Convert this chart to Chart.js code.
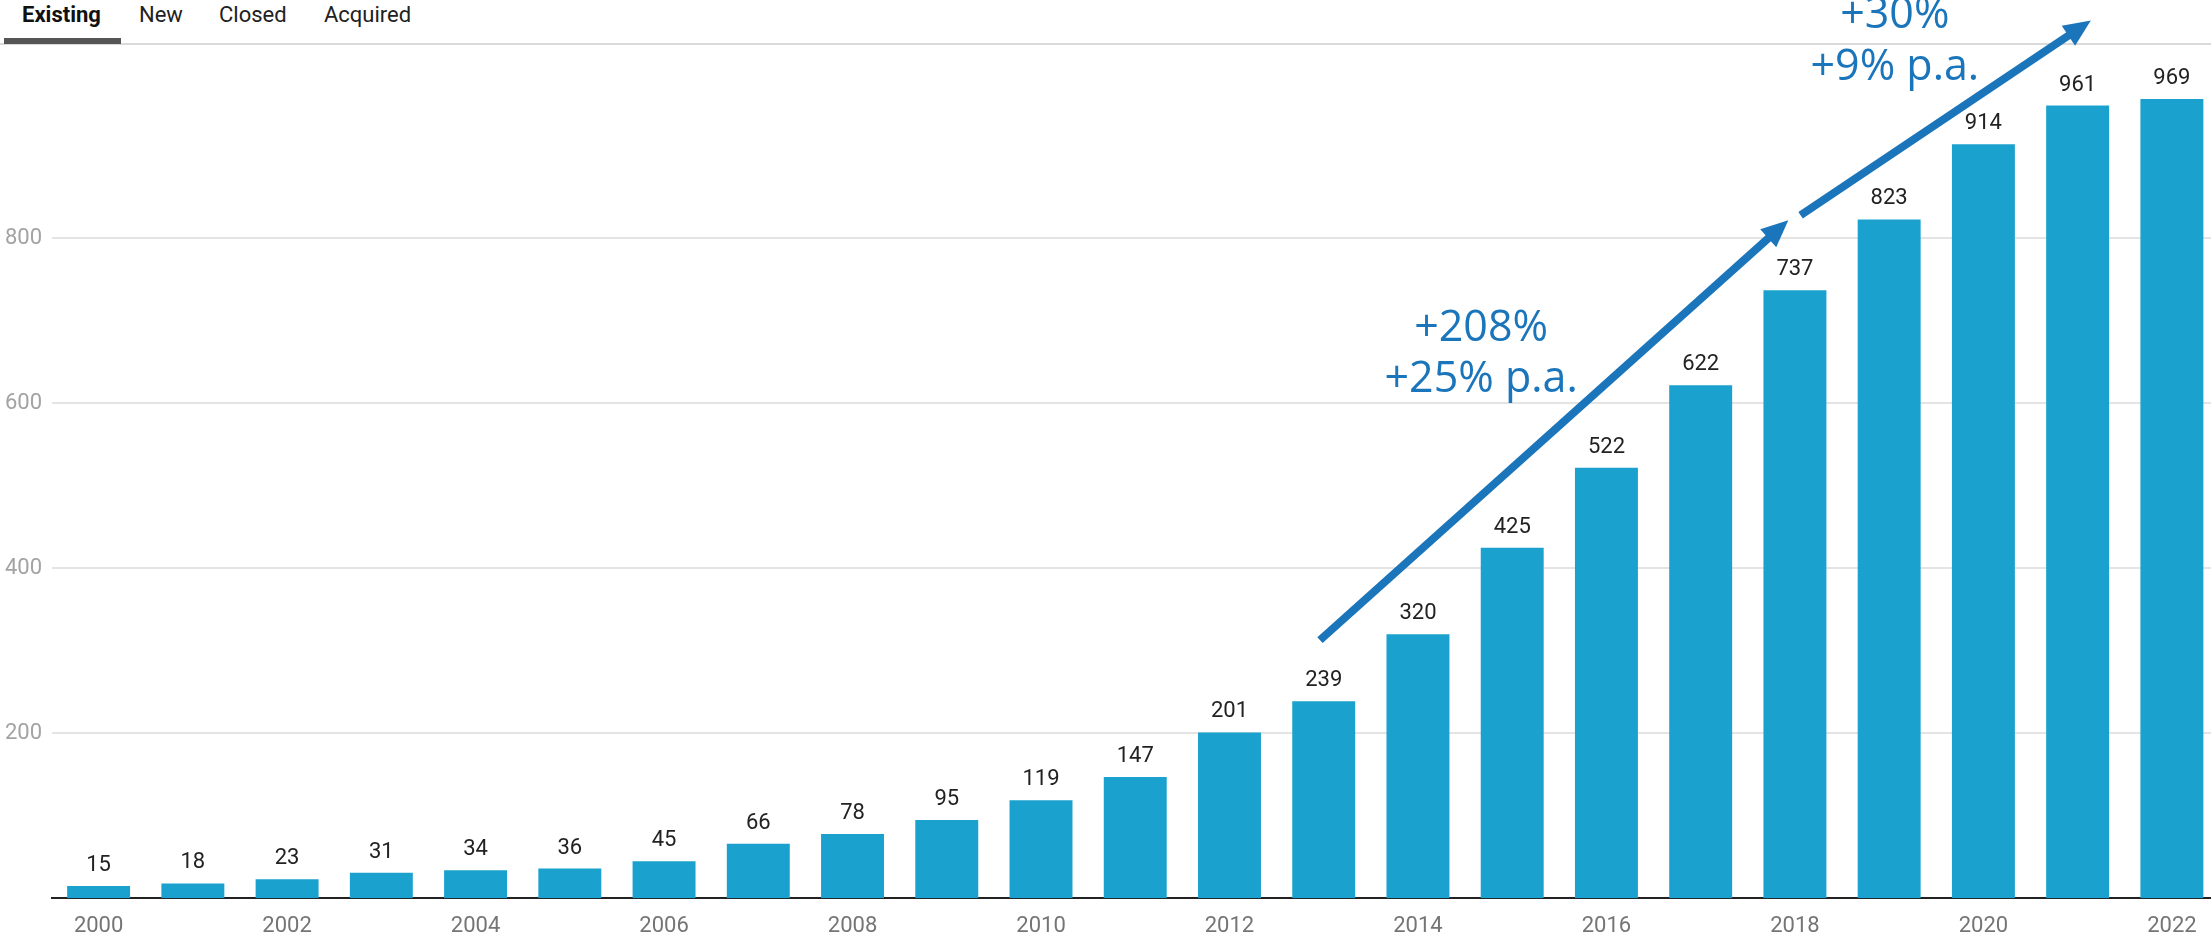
<!DOCTYPE html>
<html>
<head>
<meta charset="utf-8">
<script src="https://cdn.jsdelivr.net/npm/chart.js@4.4.1/dist/chart.umd.min.js"></script>
<style>
html,body{margin:0;padding:0;background:#fff;overflow:hidden;width:2211px;height:933px;}
#wrap{position:relative;width:2211px;height:933px;overflow:hidden;}
.tabs{position:absolute;left:0;top:0;width:2211px;height:46px;font-family:Roboto,"Liberation Sans",sans-serif;font-size:22px;color:#212121;z-index:1;}
.tab{position:absolute;top:2px;line-height:26px;white-space:nowrap;}
.tab.sel{font-weight:700;color:#111;}
.tabline{position:absolute;left:0;top:43px;width:2211px;height:2px;background:#dadada;}
.tabsel{position:absolute;left:4px;top:38px;width:117px;height:6px;background:#555;}
#c{position:absolute;left:0;top:0;z-index:2;}
</style>
</head>
<body>
<div id="wrap">
  <div class="tabs">
    <div class="tab sel" style="left:22px">Existing</div>
    <div class="tab" style="left:139px">New</div>
    <div class="tab" style="left:219px">Closed</div>
    <div class="tab" style="left:324px">Acquired</div>
    <div class="tabline"></div>
    <div class="tabsel"></div>
  </div>
  <canvas id="c" width="2219" height="933" style="width:2219px;height:933px"></canvas>
</div>
<script>
// ---- data ----
const years = ['2000','2001','2002','2003','2004','2005','2006','2007','2008','2009','2010','2011','2012','2013','2014','2015','2016','2017','2018','2019','2020','2021','2022'];
const existing = [15,18,23,31,34,36,45,66,78,95,119,147,201,239,320,425,522,622,737,823,914,961,969];
const yTickValues = [200,400,600,800];
// annotation arrows in data coordinates: [category index, value]
const arrowFrom = [[12.96,313],[18.06,828]];
const arrowTo   = [[17.93,822],[21.14,1064]];
// annotation texts in data coordinates
const noteText = ['+208%','+25% p.a.','+30%','+9% p.a.'];
const noteAt   = [[14.67,676],[14.67,614],[19.06,1055],[19.06,992]];

const overlay = {
  id:'overlay',
  afterDatasetsDraw(chart){
    const ctx = chart.ctx;
    const xs = chart.scales.x, ys = chart.scales.y;
    const meta = chart.getDatasetMeta(0);
    ctx.save();
    // value labels
    ctx.font = '22px Roboto';
    ctx.fillStyle = '#222';
    ctx.textAlign = 'center';
    ctx.textBaseline = 'alphabetic';
    meta.data.forEach((bar,i)=>{
      ctx.fillText(String(existing[i]), bar.x, bar.y - 15);
    });
    // arrows
    const col = '#1b75bb';
    ctx.strokeStyle = col;
    ctx.fillStyle = col;
    ctx.lineWidth = 8;
    ctx.lineCap = 'butt';
    for (let k=0;k<arrowFrom.length;k++){
      const x0 = xs.getPixelForValue(arrowFrom[k][0]);
      const y0 = ys.getPixelForValue(arrowFrom[k][1]);
      const x1 = xs.getPixelForValue(arrowTo[k][0]);
      const y1 = ys.getPixelForValue(arrowTo[k][1]);
      const dx = x1-x0, dy = y1-y0, L = Math.hypot(dx,dy);
      const ux = dx/L, uy = dy/L;
      const head = 27, half = 12;
      const bx = x1 - ux*head, by = y1 - uy*head;
      ctx.beginPath();
      ctx.moveTo(x0,y0);
      ctx.lineTo(bx+ux*2, by+uy*2);
      ctx.stroke();
      ctx.beginPath();
      ctx.moveTo(x1,y1);
      ctx.lineTo(bx - uy*half, by + ux*half);
      ctx.lineTo(bx + uy*half, by - ux*half);
      ctx.closePath();
      ctx.fill();
    }
    // notes
    ctx.font = '43px "Open Sans"';
    ctx.textAlign = 'center';
    ctx.textBaseline = 'alphabetic';
    for (let k=0;k<noteText.length;k++){
      ctx.fillText(noteText[k], xs.getPixelForValue(noteAt[k][0]), ys.getPixelForValue(noteAt[k][1]));
    }
    ctx.restore();
  }
};

new Chart(document.getElementById('c'), {
  type:'bar',
  data:{
    labels: years,
    datasets:[{
      data: existing,
      backgroundColor:'#1ba1cd',
      borderWidth:0,
      categoryPercentage:1,
      barPercentage:0.668
    }]
  },
  options:{
    responsive:false,
    animation:false,
    devicePixelRatio:1,
    layout:{padding:{left:5,top:0,right:0,bottom:0}},
    plugins:{legend:{display:false},tooltip:{enabled:false}},
    scales:{
      x:{
        afterFit(s){ s.height = 34.7; s.paddingLeft = 0; s.paddingRight = 0; },
        grid:{display:false,drawTicks:false},
        border:{display:true,color:'#222',width:2},
        ticks:{
          autoSkip:false,maxRotation:0,minRotation:0,padding:15,
          color:'#757575',font:{family:'Roboto',size:22},
          callback(v,i){ return i%2===0 ? years[i] : ''; }
        }
      },
      y:{
        min:0,max:1089,
        afterFit(s){ s.width = 46.5; s.paddingTop = 0; s.paddingBottom = 0; },
        afterBuildTicks(s){ s.ticks = yTickValues.map(v=>({value:v})); },
        border:{display:false},
        grid:{color:'#e4e4e4',lineWidth:2,drawTicks:false},
        ticks:{crossAlign:'far',padding:0,color:'#a3a3a3',font:{family:'Roboto',size:22}}
      }
    }
  },
  plugins:[overlay]
});
</script>
</body>
</html>
